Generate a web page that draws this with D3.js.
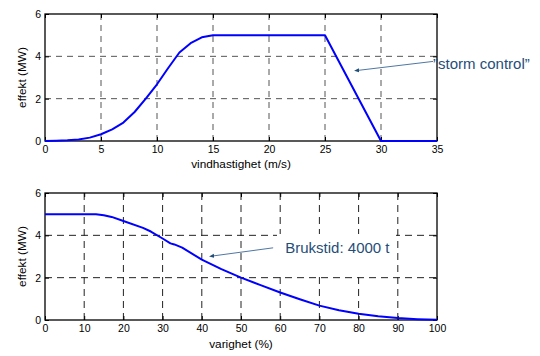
<!DOCTYPE html>
<html>
<head>
<meta charset="utf-8">
<script src="https://cdn.jsdelivr.net/npm/d3@7"></script>
<style>
  html, body { margin: 0; padding: 0; background: #fff; }
  svg { display: block; font-family: Arial, "Liberation Sans", sans-serif; }
</style>
</head>
<body>
<svg id="chart" width="540" height="356"></svg>
<script>
// ---- data ----
const windSpeed = [0, 1, 2, 3, 4, 5, 6, 7, 8, 9, 10, 11, 12, 13, 14, 15, 25, 30, 35];
const powerMW   = [0, 0.01, 0.03, 0.07, 0.16, 0.32, 0.55, 0.87, 1.37, 2.0, 2.68, 3.45, 4.18, 4.62, 4.9, 5.0, 5.0, 0, 0];

const durationPct = [0, 13, 15, 17, 20, 25, 27, 30, 32, 33, 35, 40, 45, 50, 55, 60, 65, 70, 75, 80, 85, 90, 95, 100];
const durationMW  = [5, 5, 4.95, 4.87, 4.68, 4.35, 4.18, 3.85, 3.62, 3.57, 3.42, 2.85, 2.4, 2.0, 1.65, 1.3, 0.98, 0.68, 0.46, 0.3, 0.18, 0.09, 0.04, 0.01];

const xTicksTop    = [0, 5, 10, 15, 20, 25, 30, 35];
const xTicksBottom = [0, 10, 20, 30, 40, 50, 60, 70, 80, 90, 100];
const yTicks       = [0, 2, 4, 6];

const xLabelTop    = "vindhastighet (m/s)";
const xLabelBottom = "varighet (%)";
const yLabel       = "effekt (MW)";
const annTop       = "\u201Dstorm control\u201D";
const annBottom    = "Brukstid: 4000 t";

// ---- drawing ----
const svg = d3.select("#chart");
const defs = svg.append("defs");
defs.append("marker")
  .attr("id", "arr").attr("viewBox", "0 0 10 10")
  .attr("refX", 1).attr("refY", 5)
  .attr("markerWidth", 5).attr("markerHeight", 5)
  .attr("orient", "auto-start-reverse")
  .append("path").attr("d", "M0,1 L10,5 L0,9 Z").attr("fill", "#1f4e79");

function panel(cfg) {
  const x = d3.scaleLinear().domain(cfg.xDomain).range([45, 437]);
  const y = d3.scaleLinear().domain([0, 6]).range(cfg.yRange);
  const g = svg.append("g");
  const [x0, x1] = x.range();
  const [yb, yt] = y.range();

  // grid
  g.append("g").selectAll("line").data(cfg.xTicks.slice(1, -1)).join("line")
    .attr("x1", d => x(d)).attr("x2", d => x(d))
    .attr("y1", yt).attr("y2", yb)
    .attr("stroke", cfg.gridColor).attr("stroke-width", 1)
    .attr("stroke-dasharray", cfg.dash);
  g.append("g").selectAll("line").data(yTicks.slice(1, -1)).join("line")
    .attr("y1", d => y(d)).attr("y2", d => y(d))
    .attr("x1", x0).attr("x2", x1)
    .attr("stroke", cfg.gridColor).attr("stroke-width", 1)
    .attr("stroke-dasharray", cfg.dash);

  if (cfg.whiteBox) {
    g.append("rect").attr("x", cfg.whiteBox[0]).attr("y", cfg.whiteBox[1])
      .attr("width", cfg.whiteBox[2]).attr("height", cfg.whiteBox[3])
      .attr("fill", "#fff");
  }

  // axes (inward ticks)
  const ax = g.append("g").attr("transform", `translate(0,${yb})`)
    .call(d3.axisBottom(x).tickValues(cfg.xTicks).tickSize(-4).tickPadding(5).tickFormat(d3.format("d")));
  const axT = g.append("g").attr("transform", `translate(0,${yt})`)
    .call(d3.axisTop(x).tickValues(cfg.xTicks).tickSize(-4).tickFormat(""));
  const ay = g.append("g").attr("transform", `translate(${x0},0)`)
    .call(d3.axisLeft(y).tickValues(yTicks).tickSize(-4).tickPadding(4).tickFormat(d3.format("d")));
  const ayR = g.append("g").attr("transform", `translate(${x1},0)`)
    .call(d3.axisRight(y).tickValues(yTicks).tickSize(-4).tickFormat(""));
  [ax, axT, ay, ayR].forEach(a => {
    a.select(".domain").remove();
    a.selectAll("line").attr("stroke", "#000");
    a.selectAll("text").attr("font-size", 10.5).attr("fill", "#000")
      .attr("font-family", "Arial, 'Liberation Sans', sans-serif");
  });

  // box
  g.append("rect").attr("x", x0).attr("y", yt)
    .attr("width", x1 - x0).attr("height", yb - yt)
    .attr("fill", "none").attr("stroke", "#000").attr("stroke-width", 1.3);

  // curve
  const line = d3.line().x(d => x(d[0])).y(d => y(d[1]));
  g.append("path").datum(cfg.xs.map((v, i) => [v, cfg.ys[i]]))
    .attr("d", line).attr("fill", "none")
    .attr("stroke", "#0000ff").attr("stroke-width", 2)
    .attr("stroke-linejoin", "round");

  // labels
  g.append("text").attr("x", (x0 + x1) / 2).attr("y", cfg.xLabelY)
    .attr("text-anchor", "middle").attr("font-size", 11.8).text(cfg.xLabel);
  g.append("text")
    .attr("transform", `translate(26,${(yb + yt) / 2}) rotate(-90)`)
    .attr("text-anchor", "middle").attr("font-size", 11.8).text(yLabel);

  // annotation
  const a = cfg.ann;
  g.append("line")
    .attr("x1", x(a.from[0])).attr("y1", y(a.from[1]))
    .attr("x2", x(a.to[0])).attr("y2", y(a.to[1]))
    .attr("stroke", "#4f77a3").attr("stroke-width", 1)
    .attr("marker-end", "url(#arr)");
  g.append("text").attr("x", x(a.text[0])).attr("y", y(a.text[1]))
    .attr("font-size", 15).attr("fill", "#1f4e79").text(a.label);
}

panel({
  xDomain: [0, 35], yRange: [141, 14], xTicks: xTicksTop,
  xs: windSpeed, ys: powerMW, xLabel: xLabelTop, xLabelY: 168,
  gridColor: "#555", dash: "6,5",
  ann: { from: [34.65, 3.76], to: [28.0, 3.34], text: [34.65, 3.38], label: annTop }
});
panel({
  xDomain: [0, 100], yRange: [320, 193], xTicks: xTicksBottom,
  xs: durationPct, ys: durationMW, xLabel: xLabelBottom, xLabelY: 348,
  gridColor: "#222", dash: "7,5",
  whiteBox: [277, 234, 119, 42],
  ann: { from: [58.2, 3.41], to: [43.0, 3.03], text: [61.3, 3.16], label: annBottom }
});
</script>
</body>
</html>
